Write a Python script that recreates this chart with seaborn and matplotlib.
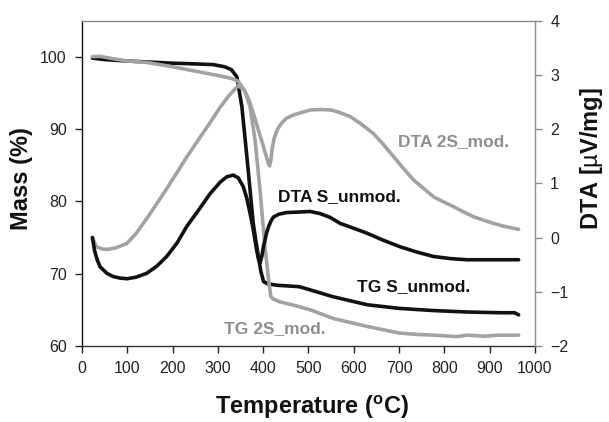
import matplotlib
matplotlib.use("Agg")
import matplotlib.pyplot as plt
import seaborn as sns

# ---------------- data ----------------
# TG curves (left axis, Mass %)
tg_s_temp = [23, 50, 100, 150, 200, 250, 290, 315, 330, 342, 353, 364, 372, 378,
             384, 390, 395, 401, 410, 430, 480, 555, 630, 700, 776, 850, 923, 955, 964]
tg_s_mass = [99.8, 99.6, 99.4, 99.25, 99.1, 99.0, 98.9, 98.6, 98.2, 97.2, 93.1, 86.2, 81.0, 77.0,
             74.5, 72.2, 70.3, 68.9, 68.6, 68.4, 68.2, 66.8, 65.7, 65.2, 64.9, 64.7, 64.6, 64.6, 64.3]

tg_2s_temp = [23, 40, 70, 100, 143, 200, 250, 275, 300, 330, 345, 360, 371, 382, 393, 404,
              412, 417, 422, 437, 470, 504, 555, 630, 700, 740, 776, 828, 850, 890, 920, 964]
tg_2s_mass = [100.0, 100.05, 99.7, 99.4, 99.2, 98.6, 98.0, 97.7, 97.4, 97.0, 96.6, 95.2, 93.1, 88.5, 81.6, 73.7,
              69.1, 66.8, 66.5, 66.1, 65.6, 65.0, 63.8, 62.7, 61.8, 61.6, 61.5, 61.3, 61.5, 61.35, 61.5, 61.5]

# DTA curves (right axis, µV/mg)
dta_s_temp = [23, 28, 34, 40, 55, 69, 85, 100, 120, 143, 165, 187, 210, 231, 257, 283, 305, 320,
              334, 345, 356, 364, 371, 377, 382, 386, 390, 393, 397, 401, 404, 408, 412, 417, 423,
              435, 452, 480, 504, 526, 548, 570, 600, 629, 665, 702, 740, 776, 815, 850, 894, 930, 964]
dta_s_val = [0.0, -0.25, -0.42, -0.54, -0.66, -0.72, -0.75, -0.76, -0.73, -0.66, -0.53, -0.35, -0.1, 0.2,
             0.5, 0.81, 1.02, 1.12, 1.15, 1.10, 0.94, 0.72, 0.45, 0.2, -0.05, -0.25, -0.41, -0.47, -0.35,
             -0.15, -0.05, 0.1, 0.2, 0.3, 0.38, 0.43, 0.46, 0.47, 0.48, 0.44, 0.37, 0.26, 0.17, 0.08,
             -0.05, -0.17, -0.27, -0.35, -0.39, -0.41, -0.41, -0.41, -0.41]

dta_2s_temp = [23, 32, 45, 55, 75, 99, 120, 143, 165, 187, 210, 231, 261, 283, 305, 325, 345, 358,
               368, 378, 388, 398, 406, 411, 414, 417, 420, 425, 432, 440, 450, 467, 504, 526, 550,
               570, 592, 615, 643, 665, 688, 710, 732, 755, 776, 800, 820, 843, 865, 890, 909, 930, 964]
dta_2s_val = [0.0, -0.17, -0.21, -0.22, -0.19, -0.11, 0.08, 0.35, 0.62, 0.90, 1.2, 1.48, 1.85, 2.12,
              2.40, 2.62, 2.80, 2.72, 2.55, 2.30, 2.02, 1.75, 1.52, 1.38, 1.32, 1.42, 1.65, 1.85, 2.00,
              2.10, 2.19, 2.26, 2.35, 2.36, 2.35, 2.30, 2.23, 2.10, 1.92, 1.72, 1.49, 1.27, 1.06, 0.90,
              0.75, 0.65, 0.57, 0.47, 0.38, 0.31, 0.26, 0.21, 0.15]

x_ticks = [0, 100, 200, 300, 400, 500, 600, 700, 800, 900, 1000]
mass_ticks = [60, 70, 80, 90, 100]
dta_ticks = [-2, -1, 0, 1, 2, 3, 4]

labels = ["DTA 2S_mod.", "DTA S_unmod.", "TG S_unmod.", "TG 2S_mod."]
label_temp = [821, 568, 733, 426]
label_mass = [88.3, 80.7, 68.2, 62.45]

# ---------------- style ----------------
sns.set_theme(style="ticks")
plt.rcParams['font.family'] = ['Liberation Sans', 'DejaVu Sans']
plt.rcParams['mathtext.fontset'] = 'custom'
plt.rcParams['mathtext.rm'] = 'Liberation Sans'
plt.rcParams['mathtext.bf'] = 'Liberation Sans:bold'

BLACK = '#111111'
GRAY = '#a2a2a2'
GRAY_TXT = '#8f8f8f'
SPINE_GRAY = '#8a8a8a'
LW = 2.6

fig = plt.figure(figsize=(6.09, 4.22), dpi=100)
ax = fig.add_axes([0.1346, 0.1801, 0.7438, 0.7713])
ax2 = ax.twinx()

sns.lineplot(x=tg_s_temp, y=tg_s_mass, ax=ax, color=BLACK, lw=LW)
sns.lineplot(x=tg_2s_temp, y=tg_2s_mass, ax=ax, color=GRAY, lw=LW)
sns.lineplot(x=dta_2s_temp, y=dta_2s_val, ax=ax2, color=GRAY, lw=LW)
sns.lineplot(x=dta_s_temp, y=dta_s_val, ax=ax2, color=BLACK, lw=LW)

ax.set_xlim(0, 1000)
ax.set_ylim(60, 105)
ax2.set_ylim(-2, 4)
ax.set_xticks(x_ticks)
ax.set_yticks(mass_ticks)
ax2.set_yticks(dta_ticks)

# annotations
for txt, t, m in zip(labels, label_temp, label_mass):
    ax.text(t, m, txt, ha='center', va='center', fontsize=12.5, fontweight='bold',
            color=(GRAY_TXT if '2S' in txt else BLACK))

# spines
ax.spines['top'].set_visible(False)
ax.spines['right'].set_visible(False)
ax.spines['left'].set_color(BLACK)
ax.spines['bottom'].set_color('#333333')
ax.spines['left'].set_linewidth(1.0)
ax.spines['bottom'].set_linewidth(1.0)
ax2.spines['left'].set_visible(False)
ax2.spines['bottom'].set_visible(False)
ax2.spines['top'].set_color(SPINE_GRAY)
ax2.spines['right'].set_color(SPINE_GRAY)
ax2.spines['top'].set_linewidth(1.0)
ax2.spines['right'].set_linewidth(1.0)

ax.tick_params(axis='both', direction='out', length=5, width=1, color='#222222',
               labelsize=11.5, labelcolor='#222222')
ax.tick_params(axis='x', pad=6)
ax.tick_params(axis='y', pad=6)
ax2.tick_params(axis='y', direction='out', length=5, width=1, color=SPINE_GRAY,
                labelsize=11.5, labelcolor='#222222', pad=6)

# axis labels
ax.set_xlabel('Temperature ($^{\\mathbf{o}}$C)', fontsize=17, fontweight='bold', color='#111111')
ax.xaxis.label.set_va('baseline')
ax.xaxis.set_label_coords(0.508, -0.209)

ax.set_ylabel('Mass (%)', fontsize=17, fontweight='bold', color='#111111')
ax.yaxis.label.set_va('center')
ax.yaxis.label.set_ha('center')
ax.yaxis.set_label_coords(-0.133, 0.513)

ax2.set_ylabel('DTA [$\\mathrm{\u00b5}$V/mg]', fontsize=17, fontweight='bold', color='#111111',
               rotation=90)
ax2.yaxis.label.set_va('center')
ax2.yaxis.label.set_ha('center')
ax2.yaxis.set_label_coords(1.125, 0.575)

fig.savefig('out.png', dpi=100)
